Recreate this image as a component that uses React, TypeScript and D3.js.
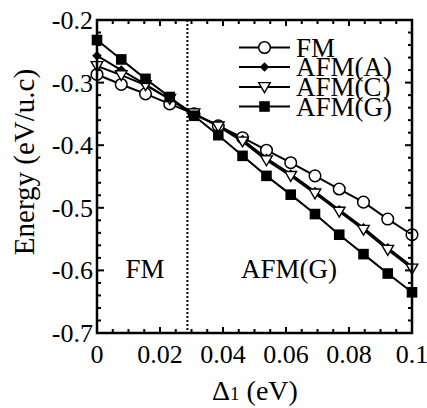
import React from 'react';
import * as d3 from 'd3';

// Delta_1 values (eV) where energies were computed
const deltas = [0, 0.0077, 0.0154, 0.0231, 0.0308, 0.0385, 0.0462, 0.0538, 0.0615, 0.0692, 0.0769, 0.0846, 0.0923, 0.1];

const fmE = [-0.287, -0.303, -0.318, -0.334, -0.350, -0.369, -0.388, -0.408, -0.428, -0.449, -0.470, -0.491, -0.518, -0.543];
const afmAE = [-0.257, -0.280, -0.303, -0.327, -0.351, -0.368, -0.391, -0.421, -0.446, -0.474, -0.503, -0.532, -0.564, -0.594];
const afmCE = [-0.2735, -0.288, -0.304, -0.326, -0.349, -0.370, -0.394, -0.424, -0.449, -0.477, -0.506, -0.535, -0.567, -0.597];
const afmGE = [-0.232, -0.263, -0.294, -0.323, -0.353, -0.384, -0.417, -0.449, -0.479, -0.510, -0.543, -0.574, -0.605, -0.635];

const seriesNames = ['FM', 'AFM(A)', 'AFM(C)', 'AFM(G)'];
const seriesValues = [fmE, afmAE, afmCE, afmGE];
const seriesMarkers = ['circle', 'diamond', 'triangle', 'square'];

const xTicks = [0, 0.02, 0.04, 0.06, 0.08, 0.1];
const xTickLabels = ['0', '0.02', '0.04', '0.06', '0.08', '0.1'];
const yTicks = [-0.2, -0.3, -0.4, -0.5, -0.6, -0.7];
const yTickLabels = ['-0.2', '-0.3', '-0.4', '-0.5', '-0.6', '-0.7'];

const boundary = 0.0287;

const W = 427;
const H = 408;
const M = { left: 97, right: 15, top: 20, bottom: 75 };
const font = "'Liberation Serif', 'Times New Roman', Times, 'DejaVu Serif', serif";

function Marker({ type, x, y }: { type: string; x: number; y: number }) {
  if (type === 'circle') {
    return <circle cx={x} cy={y} r={5.8} fill="#fff" stroke="#000" strokeWidth={1.5} />;
  }
  if (type === 'square') {
    return <rect x={x - 5.3} y={y - 5.3} width={10.6} height={10.6} fill="#000" />;
  }
  if (type === 'diamond') {
    const s = 4.8;
    return <path d={`M${x},${y - s}L${x + s},${y}L${x},${y + s}L${x - s},${y}Z`} fill="#000" />;
  }
  // downward triangle
  const s = 5.8;
  return (
    <path
      d={`M${x - s},${y - s * 0.75}L${x + s},${y - s * 0.75}L${x},${y + s * 0.95}Z`}
      fill="#fff"
      stroke="#000"
      strokeWidth={1.4}
    />
  );
}

export default function App() {
  const x = d3.scaleLinear().domain([0, 0.1]).range([M.left, W - M.right]);
  const y = d3.scaleLinear().domain([-0.7, -0.2]).range([H - M.bottom, M.top]);
  const line = d3.line<number>()
    .x((_, i) => x(deltas[i]))
    .y((d) => y(d));

  const x0 = x(0), x1 = x(0.1), y0 = y(-0.7), y1 = y(-0.2);
  const xMinor = d3.range(0, 0.1001, 0.005);
  const yMinor = d3.range(-0.7, -0.1999, 0.02);

  const legendX = 239;
  const legendY = [47.5, 67, 87, 106.5];

  return (
    <svg width={W} height={H} style={{ position: 'absolute', left: 0, top: 0, fontFamily: font }}>
      <rect width={W} height={H} fill="#fff" />

      {/* boundary line */}
      <line x1={x(boundary)} x2={x(boundary)} y1={y1} y2={y0} stroke="#000" strokeWidth={2} strokeDasharray="2,2" />

      {/* series */}
      {seriesValues.map((vals, si) => (
        <path key={'l' + si} d={line(vals) || ''} fill="none" stroke="#000" strokeWidth={2} />
      ))}
      {seriesValues.map((vals, si) => (
        <g key={'m' + si}>
          {vals.map((v, i) => (
            <Marker key={i} type={seriesMarkers[si]} x={x(deltas[i])} y={y(v)} />
          ))}
        </g>
      ))}

      {/* ticks */}
      {xMinor.map((t, i) => {
        const len = i % 4 === 0 ? 6 : 4;
        return (
          <g key={'xt' + i}>
            <line x1={x(t)} x2={x(t)} y1={y0} y2={y0 - len} stroke="#000" strokeWidth={2} />
            <line x1={x(t)} x2={x(t)} y1={y1} y2={y1 + len} stroke="#000" strokeWidth={2} />
          </g>
        );
      })}
      {yMinor.map((t, i) => {
        const len = i % 5 === 0 ? 7 : 4;
        return (
          <g key={'yt' + i}>
            <line x1={x0} x2={x0 + len} y1={y(t)} y2={y(t)} stroke="#000" strokeWidth={2} />
            <line x1={x1} x2={x1 - len} y1={y(t)} y2={y(t)} stroke="#000" strokeWidth={2} />
          </g>
        );
      })}

      {/* frame */}
      <rect x={x0} y={y1} width={x1 - x0} height={y0 - y1} fill="none" stroke="#000" strokeWidth={2.5} />

      {/* tick labels */}
      {xTicks.map((t, i) => (
        <text key={'xl' + i} x={x(t)} y={y0 + 30} textAnchor="middle" fontSize={26}>
          {xTickLabels[i]}
        </text>
      ))}
      {yTicks.map((t, i) => (
        <text key={'yl' + i} x={x0 - 4} y={y(t) + 9} textAnchor="end" fontSize={26}>
          {yTickLabels[i]}
        </text>
      ))}

      {/* axis titles */}
      <text x={255} y={400} textAnchor="middle" fontSize={28}>
        Δ<tspan fontSize={19}>1</tspan> (eV)
      </text>
      <text transform={`translate(34,162) rotate(-90)`} textAnchor="middle" fontSize={29}>
        Energy (eV/u.c)
      </text>

      {/* region labels */}
      <text x={145} y={278} textAnchor="middle" fontSize={27}>FM</text>
      <text x={289} y={278} textAnchor="middle" fontSize={27}>AFM(G)</text>

      {/* legend */}
      {seriesNames.map((name, i) => (
        <g key={'lg' + i}>
          <line x1={legendX} x2={legendX + 51} y1={legendY[i]} y2={legendY[i]} stroke="#000" strokeWidth={2} />
          <Marker type={seriesMarkers[i]} x={legendX + 25.5} y={legendY[i]} />
          <text x={296} y={legendY[i] + 9} fontSize={27}>{name}</text>
        </g>
      ))}
    </svg>
  );
}
